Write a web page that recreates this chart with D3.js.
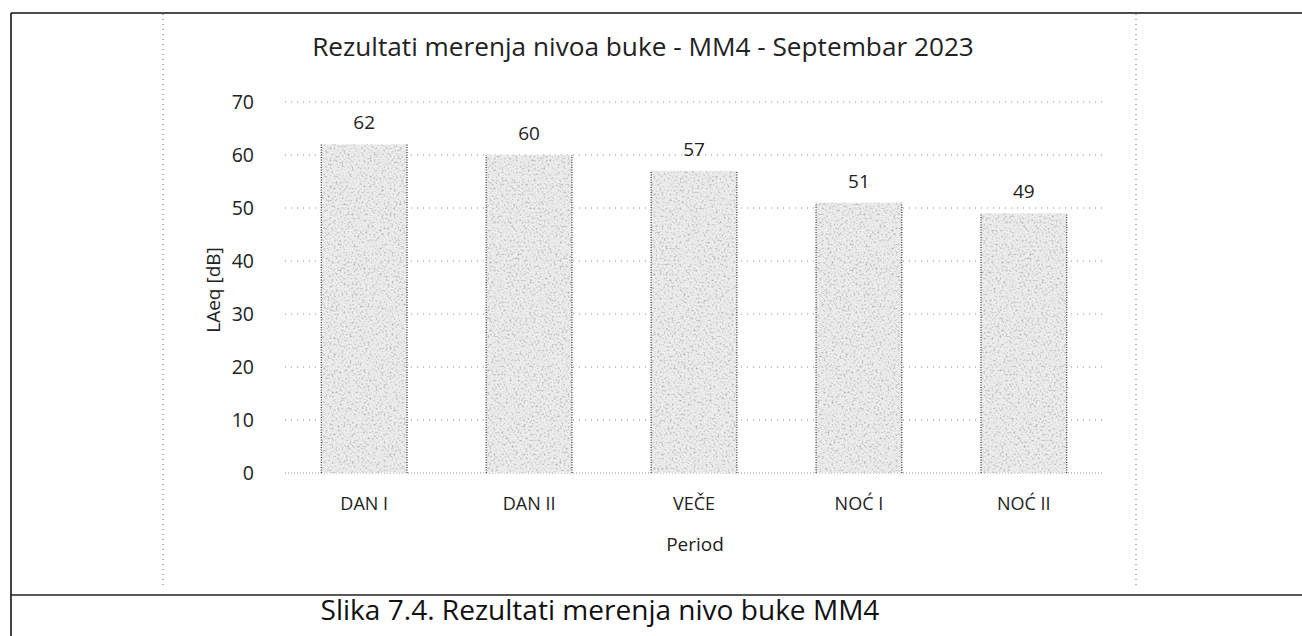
<!DOCTYPE html>
<html>
<head>
<meta charset="utf-8">
<script src="https://cdn.jsdelivr.net/npm/d3@7"></script>
<style>
  html, body { margin: 0; padding: 0; background: #fff; }
  svg { display: block; font-family: "Open Sans", "Noto Sans", sans-serif; }
</style>
</head>
<body>
<svg id="chart" width="1302" height="636"></svg>
<script>
// Measured noise levels per period
const categories = ["DAN I", "DAN II", "VEČE", "NOĆ I", "NOĆ II"];
const values = [62, 60, 57, 51, 49];
const yTicks = [0, 10, 20, 30, 40, 50, 60, 70];
const chartTitle = "Rezultati merenja nivoa buke - MM4 - Septembar 2023";
const yTitle = "LAeq [dB]";
const xTitle = "Period";
const caption = "Slika 7.4. Rezultati merenja nivo buke MM4";

const svg = d3.select("#chart");
const FONT = "'Open Sans', 'Noto Sans', sans-serif";

// Stippled, grainy fill for bars
const defs = svg.append("defs");
const f = defs.append("filter").attr("id", "stipple")
  .attr("x", 0).attr("y", 0).attr("width", 1).attr("height", 1);
f.append("feTurbulence").attr("type", "fractalNoise")
  .attr("baseFrequency", 0.5).attr("numOctaves", 2).attr("seed", 7).attr("result", "noise");
f.append("feColorMatrix").attr("in", "noise").attr("type", "matrix")
  .attr("values", "0 0 0 0 0.4  0 0 0 0 0.4  0 0 0 0 0.4  1 0 0 0 0")
  .attr("result", "tinted");
const ct = f.append("feComponentTransfer").attr("in", "tinted").attr("result", "dots");
ct.append("feFuncA").attr("type", "discrete").attr("tableValues", "0 0 0 0 0.15 0.55 0.85 1");
f.append("feComposite").attr("in", "dots").attr("in2", "SourceGraphic")
  .attr("operator", "in").attr("result", "clipped");
const fm = f.append("feMerge");
fm.append("feMergeNode").attr("in", "SourceGraphic");
fm.append("feMergeNode").attr("in", "clipped");

// Page frame lines
const frame = svg.append("g");
frame.append("line").attr("x1", 11).attr("x2", 1302).attr("y1", 13).attr("y2", 13)
  .attr("stroke", "#111").attr("stroke-width", 1.6);
frame.append("line").attr("x1", 11).attr("x2", 11).attr("y1", 13).attr("y2", 636)
  .attr("stroke", "#111").attr("stroke-width", 1.6);
frame.append("line").attr("x1", 11).attr("x2", 1302).attr("y1", 595).attr("y2", 595)
  .attr("stroke", "#222").attr("stroke-width", 1.4);

// Chart area border (dotted)
[163, 1136].forEach(x => {
  frame.append("line").attr("x1", x).attr("x2", x).attr("y1", 14).attr("y2", 588)
    .attr("stroke", "#666").attr("stroke-width", 1).attr("stroke-dasharray", "1,4");
});

// Scales
const x = d3.scaleBand().domain(categories).range([285, 1103])
  .paddingInner(0.48).paddingOuter(0.22);
const y = d3.scaleLinear().domain([0, 70]).range([473, 102]);

// Gridlines
svg.append("g").selectAll("line").data(yTicks).join("line")
  .attr("x1", 285).attr("x2", 1103)
  .attr("y1", d => y(d)).attr("y2", d => y(d))
  .attr("stroke", "#888").attr("stroke-width", 1)
  .attr("stroke-dasharray", d => d === 0 ? "1,2" : "1,5");

// Y axis (labels only)
const yAxis = svg.append("g").attr("transform", "translate(264,0)")
  .call(d3.axisLeft(y).tickValues(yTicks).tickSize(0).tickPadding(10));
yAxis.select(".domain").remove();
yAxis.attr("font-size", null).attr("font-family", null);
yAxis.selectAll("text").attr("font-size", 19.5).attr("fill", "#222")
  .attr("font-family", FONT);

// X axis (labels only)
const xAxis = svg.append("g").attr("transform", "translate(0,473)")
  .call(d3.axisBottom(x).tickSize(0).tickPadding(24));
xAxis.select(".domain").remove();
xAxis.attr("font-size", null).attr("font-family", null);
xAxis.selectAll("text").attr("font-size", 18).attr("fill", "#222")
  .attr("font-family", FONT);

// Bars
const bars = svg.append("g");
bars.selectAll("rect").data(values).join("rect")
  .attr("x", (d, i) => x(categories[i]))
  .attr("y", d => y(d))
  .attr("width", x.bandwidth())
  .attr("height", d => y(0) - y(d))
  .attr("fill", "#eeeeee")
  .attr("filter", "url(#stipple)");
// dotted dark edges
bars.selectAll("path.edge").data(values).join("path")
  .attr("class", "edge")
  .attr("d", (d, i) => {
    const x0 = x(categories[i]), x1 = x0 + x.bandwidth();
    return `M${x0},${y(0)}V${y(d)} M${x1},${y(0)}V${y(d)}`;
  })
  .attr("stroke", "#333").attr("stroke-width", 1.2).attr("stroke-dasharray", "1,1.5")
  .attr("fill", "none");

// Value labels
svg.append("g").selectAll("text").data(values).join("text")
  .attr("x", (d, i) => x(categories[i]) + x.bandwidth() / 2)
  .attr("y", d => y(d) - 15)
  .attr("text-anchor", "middle")
  .attr("font-size", 19).attr("fill", "#222")
  .text(d => d);

// Titles
const fit = (sel, w) => {
  const cur = sel.node().getComputedTextLength();
  const fs = parseFloat(sel.attr("font-size"));
  sel.attr("font-size", fs * w / cur);
};
const t = svg.append("text").attr("x", 643).attr("y", 56)
  .attr("text-anchor", "middle").attr("font-size", 20).attr("fill", "#222")
  .text(chartTitle);
fit(t, 662);

svg.append("text")
  .attr("transform", "translate(220,290) rotate(-90)")
  .attr("text-anchor", "middle").attr("font-size", 19).attr("fill", "#222")
  .text(yTitle);

svg.append("text").attr("x", 695).attr("y", 551)
  .attr("text-anchor", "middle").attr("font-size", 19).attr("fill", "#222")
  .text(xTitle);

const c = svg.append("text").attr("x", 600).attr("y", 620)
  .attr("text-anchor", "middle").attr("font-size", 20).attr("fill", "#111")
  .text(caption);
fit(c, 559);
</script>
</body>
</html>
